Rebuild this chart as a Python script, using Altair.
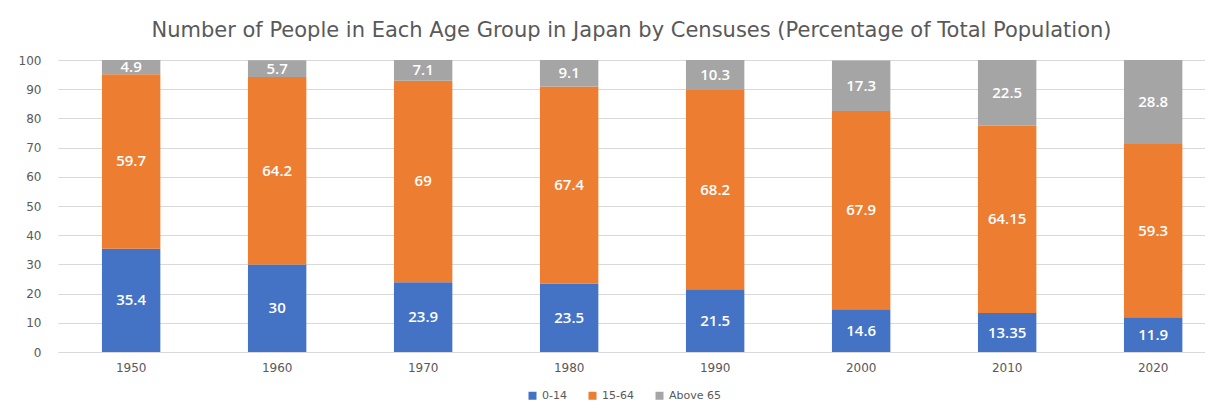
import altair as alt
import pandas as pd

years = ["1950", "1960", "1970", "1980", "1990", "2000", "2010", "2020"]
groups = ["0-14", "15-64", "Above 65"]
age_0_14 = [35.4, 30, 23.9, 23.5, 21.5, 14.6, 13.35, 11.9]
age_15_64 = [59.7, 64.2, 69, 67.4, 68.2, 67.9, 64.15, 59.3]
age_65_plus = [4.9, 5.7, 7.1, 9.1, 10.3, 17.3, 22.5, 28.8]
colors = ["#4472C4", "#ED7D31", "#A5A5A5"]

rows = []
for gi, (g, series) in enumerate(zip(groups, [age_0_14, age_15_64, age_65_plus])):
    for y, v in zip(years, series):
        rows.append({"year": y, "group": g, "order": gi, "value": v, "label": f"{v:g}"})
df = pd.DataFrame(rows)

FONT = "DejaVu Sans"
GREY = "#595959"

x = alt.X("year:N", sort=years, title=None,
          scale=alt.Scale(paddingInner=0.6, paddingOuter=0.228, align=0.66),
          axis=alt.Axis(labelAngle=0, labelFont=FONT, labelFontSize=12, labelColor=GREY,
                        ticks=False, domainColor="#D9D9D9", labelPadding=10))

y_axis = alt.Axis(values=list(range(0, 101, 10)), labelFont=FONT, labelFontSize=12,
                  labelColor=GREY, ticks=False, domain=False, gridColor="#D9D9D9",
                  labelPadding=17, labelOverlap=False, title=None)
y_scale = alt.Scale(domain=[0, 100], nice=False)

base = alt.Chart(df)

bars = base.mark_bar().encode(
    x=x,
    y=alt.Y("value:Q", stack="zero", title=None, scale=y_scale, axis=y_axis),
    color=alt.Color("group:N", sort=groups,
                    scale=alt.Scale(domain=groups, range=colors),
                    legend=alt.Legend(title=None, orient="none", direction="horizontal",
                                      legendX=469, legendY=330,
                                      symbolType="square", symbolSize=64, symbolStrokeWidth=0,
                                      labelFont=FONT, labelFontSize=11, labelColor=GREY,
                                      columnPadding=20)),
    order=alt.Order("order:Q", sort="ascending"),
)

labels = base.transform_window(
    cum="sum(value)", groupby=["year"], sort=[alt.SortField("order", order="ascending")],
    frame=[None, 0]
).transform_calculate(
    mid="datum.cum - datum.value / 2"
).mark_text(color="white", font="Open Sans", fontSize=15, fontWeight=600).encode(
    x=x,
    y=alt.Y("mid:Q", title=None, scale=y_scale, axis=y_axis),
    text="label:N",
)

chart = alt.layer(bars, labels).properties(
    width=1147, height=292,
    autosize=alt.AutoSizeParams(type="none"),
    padding={"left": 50, "top": 52, "right": 0, "bottom": 51},
    title=alt.TitleParams(
        "Number of People in Each Age Group in Japan by Censuses (Percentage of Total Population)",
        font=FONT, fontSize=21, fontWeight="normal", color=GREY, offset=13),
).configure_view(stroke=None)

chart.save("out.html", embed_options={"renderer": "svg", "actions": False})
